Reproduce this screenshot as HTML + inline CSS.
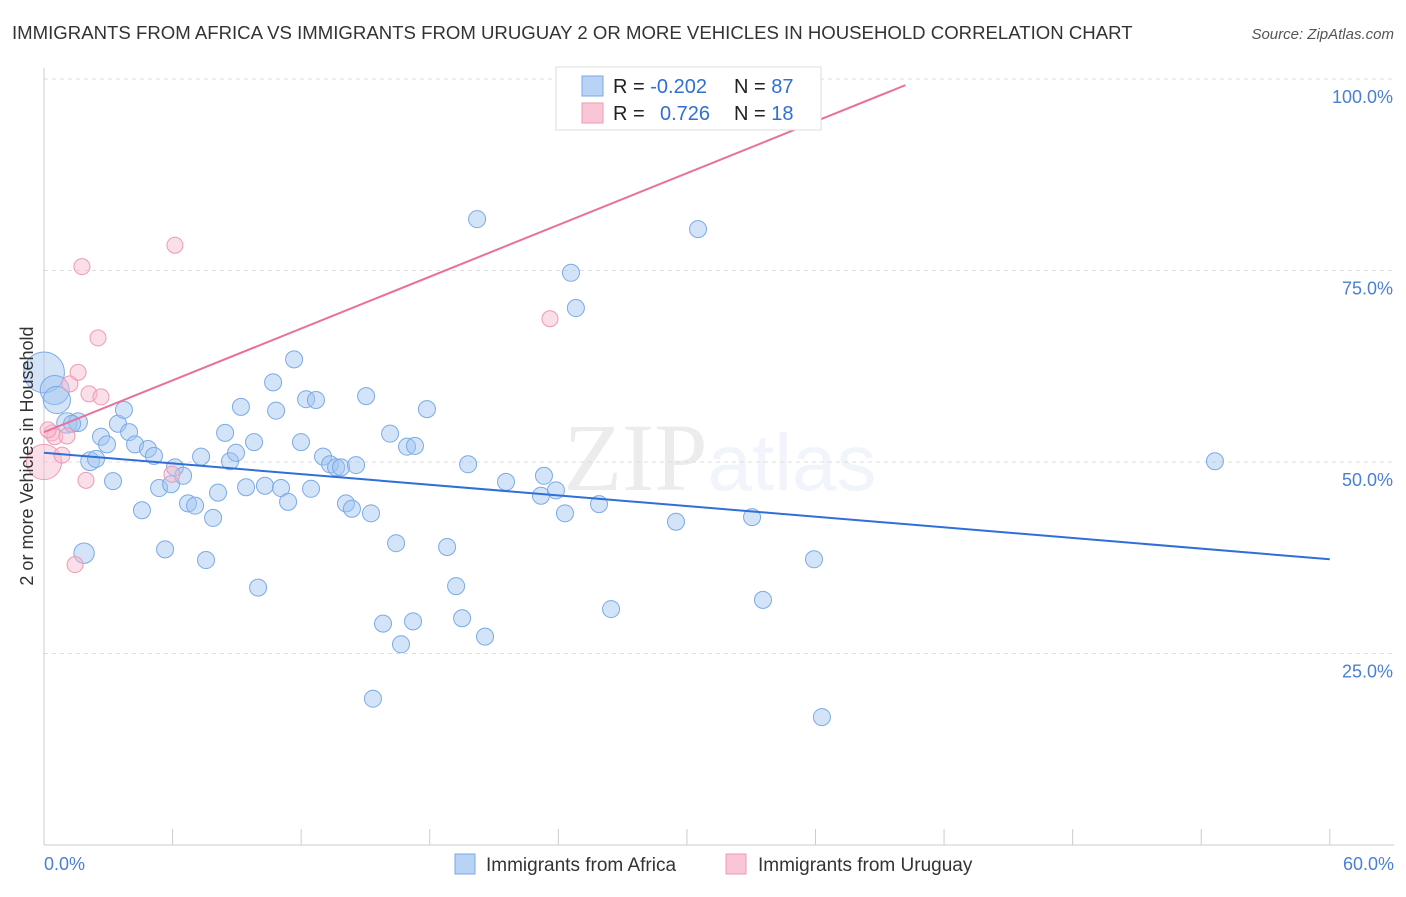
<!DOCTYPE html>
<html><head><meta charset="utf-8"><style>
body{margin:0;background:#fff;font-family:"Liberation Sans",sans-serif;}
</style></head><body>
<svg id="chart" width="1406" height="892" xmlns="http://www.w3.org/2000/svg" font-family="Liberation Sans, sans-serif">
<text x="12" y="39" font-size="18.6" fill="#333">IMMIGRANTS FROM AFRICA VS IMMIGRANTS FROM URUGUAY 2 OR MORE VEHICLES IN HOUSEHOLD CORRELATION CHART</text>
<text x="1394" y="39" font-size="15" font-style="italic" fill="#555" text-anchor="end">Source: ZipAtlas.com</text>
<text x="720" y="490" font-size="96" text-anchor="middle" fill="#000" opacity="0.07" font-family="Liberation Serif, serif">ZIP<tspan fill="#4a7fd4" opacity="1" font-family="Liberation Sans, sans-serif" font-size="80">atlas</tspan></text>
<g id="grid"></g><g id="axes"></g><g id="pts"></g><g id="lines"></g>
<text transform="translate(33,456) rotate(-90)" font-size="18" fill="#333" text-anchor="middle">2 or more Vehicles in Household</text>
<g>
<rect x="556" y="67" width="265" height="63" fill="#fff" stroke="#ddd"/>
<rect x="582" y="76" width="21" height="20" fill="#b8d3f5" stroke="#7aaae6"/>
<rect x="582" y="103" width="21" height="20" fill="#f9c6d6" stroke="#ee9ab5"/>
<text x="613" y="93" font-size="20" fill="#222">R = <tspan fill="#2f6fd6">-0.202</tspan><tspan x="734">N = </tspan><tspan fill="#2f6fd6">87</tspan></text>
<text x="613" y="120" font-size="20" fill="#222">R = <tspan x="660" fill="#2f6fd6">0.726</tspan><tspan x="734">N = </tspan><tspan fill="#2f6fd6">18</tspan></text>
</g>
<g>
<rect x="455" y="854" width="20" height="20" fill="#b8d3f5" stroke="#7aaae6"/>
<text x="486" y="871" font-size="19" fill="#333">Immigrants from Africa</text>
<rect x="726" y="854" width="20" height="20" fill="#f9c6d6" stroke="#ee9ab5"/>
<text x="758" y="871" font-size="19" fill="#333">Immigrants from Uruguay</text>
</g>
</svg>
<script>
const africaX=[0,0.5,0.6,1.07,1.59,1.31,1.87,2.15,2.43,2.66,2.94,3.22,3.45,3.73,3.97,4.25,4.57,4.85,5.13,5.37,5.65,5.93,6.11,6.49,6.72,7.05,7.33,7.56,7.89,8.12,8.45,8.68,8.96,9.19,9.43,9.8,9.99,10.31,10.69,10.83,11.06,11.39,11.67,11.99,12.23,12.46,12.69,13.02,13.35,13.63,13.86,14.09,14.37,14.56,15.03,15.26,15.35,15.82,16.15,16.43,16.94,17.22,16.66,17.31,17.87,18.81,19.23,19.51,19.79,20.21,20.58,21.56,23.19,23.33,23.89,24.31,24.59,24.82,25.9,26.46,29.49,30.52,33.04,33.55,35.93,36.3,54.64];
const africaY=[61.7,59.4,58.1,55.1,55.2,55.0,38.1,50.1,50.4,53.3,52.3,47.5,55.0,56.8,53.9,52.3,43.7,51.7,50.8,46.6,38.6,47.1,49.3,48.2,44.6,44.3,50.7,37.2,42.7,46.0,53.8,50.1,51.2,57.2,46.7,52.6,33.6,46.9,60.4,56.7,46.6,44.8,63.4,52.6,58.2,46.5,58.1,50.7,49.7,49.3,49.3,44.6,43.9,49.6,58.6,43.3,19.1,28.9,53.7,39.4,52.0,29.2,26.2,52.1,56.9,38.9,33.8,29.6,49.7,81.7,27.2,47.4,45.6,48.2,46.3,43.3,74.7,70.1,44.5,30.8,42.2,80.4,42.8,32.0,37.3,16.7,50.1];
const africaSize=[2.4,1.7,1.6,1.2,1.1,1,1.2,1.1];
const uruguayX=[0,0.37,0.5,0.84,1.07,1.21,1.59,1.77,1.96,2.1,2.52,2.66,5.97,6.11,23.61,35.37,0.19,1.45];
const uruguayY=[50.0,53.8,53.3,50.9,53.4,60.2,61.7,75.5,47.6,58.9,66.2,58.5,48.4,78.3,68.7,99.9,54.2,36.6];
const uruguaySize=[2.2];
const xTicks=[0,6,12,18,24,30,36,42,48,54,60];
const yTicks=[25,50,75,100];
const africaTrend=[51.2,37.3];
const uruguayTrend=[53.9,99.2,40.2];
const sx=v=>44+v*21.43, sy=v=>845-v*7.66;
const NS="http://www.w3.org/2000/svg";
function mk(t,a,p){const e=document.createElementNS(NS,t);for(const k in a)e.setAttribute(k,a[k]);p.appendChild(e);return e;}
const grid=document.getElementById('grid'),axes=document.getElementById('axes'),pts=document.getElementById('pts'),lines=document.getElementById('lines');
yTicks.forEach(v=>{
 const l=mk('line',{x1:44,x2:1394,y1:sy(v),y2:sy(v),stroke:'#ddd','stroke-dasharray':'4,4'},grid);
 
 
 const t=mk('text',{x:1393,y:sy(v)+24,'font-size':18,fill:'#4a7fd4','text-anchor':'end'},axes);
 t.textContent=v.toFixed(1)+'%';
 
 
});
mk('line',{x1:44,x2:44,y1:68,y2:845,stroke:'#ccc'},axes);
mk('line',{x1:44,x2:1394,y1:845,y2:845,stroke:'#ccc'},axes);
xTicks.forEach(v=>{
 const l=mk('line',{x1:sx(v),x2:sx(v),y1:829,y2:845,stroke:'#ccc'},axes);
 
 
});
[[0,'0.0%','start',44],[60,'60.0%','end',1394]].forEach(([v,s,a,x])=>{
 const t=mk('text',{x:x,y:870,'font-size':18,fill:'#4a7fd4','text-anchor':a},axes);t.textContent=s;
 
 
});
africaX.forEach((x,i)=>{
 const c=mk('circle',{cx:sx(x),cy:sy(africaY[i]),r:8.5*(africaSize[i]||1),fill:'rgba(160,195,240,0.45)',stroke:'#7aaae6','stroke-width':1},pts);
 
 
});
uruguayX.forEach((x,i)=>{
 const c=mk('circle',{cx:sx(x),cy:sy(uruguayY[i]),r:8*(uruguaySize[i]||1),fill:'rgba(247,185,205,0.45)',stroke:'#ee9ab5','stroke-width':1},pts);
 
 
});
const bl=mk('line',{x1:sx(0),y1:sy(africaTrend[0]),x2:sx(60),y2:sy(africaTrend[1]),stroke:'#2f6fd6','stroke-width':2},lines);


const pl=mk('line',{x1:sx(0),y1:sy(uruguayTrend[0]),x2:sx(uruguayTrend[2]),y2:sy(uruguayTrend[1]),stroke:'#e8709a','stroke-width':2},lines);


</script>
</body></html>
